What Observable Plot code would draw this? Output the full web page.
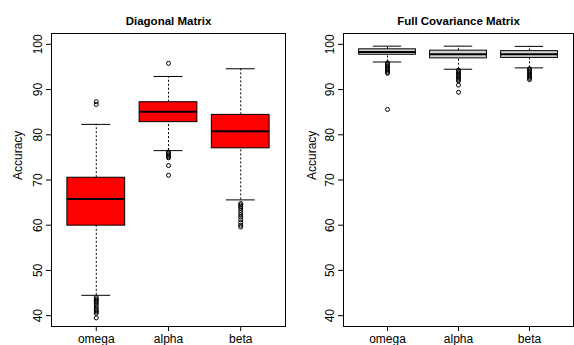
<!DOCTYPE html>
<html><head><meta charset="utf-8">
<script src="https://cdn.jsdelivr.net/npm/d3@7"></script>
<script src="https://cdn.jsdelivr.net/npm/@observablehq/plot@0.6"></script>
<style>
body{margin:0;background:#fff;}
#wrap{display:flex;width:574px;height:345px;overflow:hidden;}
</style></head><body><div id="wrap"></div>
<script>
const categories = ["omega", "alpha", "beta"];
const yTicks = [40, 50, 60, 70, 80, 90, 100];

// Diagonal Matrix
const diagLowerWhisker = [44.5, 76.5, 65.6];
const diagQ1 = [59.9, 82.8, 77.0];
const diagMedian = [65.8, 85.1, 80.8];
const diagQ3 = [70.5, 87.2, 84.4];
const diagUpperWhisker = [82.3, 92.9, 94.6];
const diagOutliersOmega = [87.3, 86.7, 44.0, 43.7, 43.4, 43.1, 42.8, 42.4, 41.9, 41.4, 41.1, 40.8, 40.5, 39.5];
const diagOutliersAlpha = [95.8, 76.2, 75.9, 75.6, 75.4, 75.1, 74.9, 73.2, 71.05];
const diagOutliersBeta = [64.8, 64.5, 64.2, 63.8, 63.3, 62.8, 62.3, 61.8, 61.2, 60.6, 60.0, 59.6];

// Full Covariance Matrix
const fullLowerWhisker = [96.1, 94.5, 94.8];
const fullQ1 = [97.7, 96.9, 97.0];
const fullMedian = [98.3, 97.8, 97.8];
const fullQ3 = [98.9, 98.6, 98.5];
const fullUpperWhisker = [99.6, 99.6, 99.55];
const fullOutliersOmega = [95.9, 95.6, 95.3, 95.0, 94.7, 94.4, 94.1, 93.8, 93.6, 85.6];
const fullOutliersAlpha = [94.3, 94.0, 93.7, 93.4, 93.1, 92.8, 92.5, 92.2, 91.9, 91.0, 89.4];
const fullOutliersBeta = [94.6, 94.3, 94.0, 93.7, 93.4, 93.1, 92.8, 92.5, 92.2];

function panel({title, lw, q1, med, q3, uw, outliers, fill, marginLeft, marginRight, labelDx}) {
  const rows = categories.map((c, i) => ({pos: i + 1, cat: c, lw: lw[i], q1: q1[i], med: med[i], q3: q3[i], uw: uw[i]}));
  const pts = outliers.flatMap((arr, i) => arr.map(v => ({pos: i + 1, v})));
  return Plot.plot({
    width: 287, height: 345, marginLeft, marginRight, marginTop: 33, marginBottom: 19,
    style: {fontFamily: "'Liberation Sans', Arial, sans-serif", fontSize: "12px", background: "white", color: "black"},
    x: {type: "linear", domain: [0.38, 3.62]},
    y: {domain: [37.6, 102.4]},
    marks: [
      Plot.ruleX(rows, {x: "pos", y1: "q3", y2: "uw", stroke: "black", strokeDasharray: "2,2"}),
      Plot.ruleX(rows, {x: "pos", y1: "lw", y2: "q1", stroke: "black", strokeDasharray: "2,2"}),
      Plot.rect(rows, {x1: d => d.pos - 0.4, x2: d => d.pos + 0.4, y1: "q1", y2: "q3", fill, stroke: "black"}),
      Plot.ruleY(rows, {x1: d => d.pos - 0.4, x2: d => d.pos + 0.4, y: "med", stroke: "black", strokeWidth: 2}),
      Plot.ruleY(rows, {x1: d => d.pos - 0.2, x2: d => d.pos + 0.2, y: "uw", stroke: "black"}),
      Plot.ruleY(rows, {x1: d => d.pos - 0.2, x2: d => d.pos + 0.2, y: "lw", stroke: "black"}),
      Plot.dot(pts, {x: "pos", y: "v", r: 2, stroke: "black", strokeWidth: 1}),
      Plot.frame({stroke: "black"}),
      Plot.axisY({ticks: yTicks, tickSize: 5, tickRotate: -90, tickPadding: 5, label: null, fontSize: 12}),
      Plot.axisX({ticks: [1, 2, 3], tickFormat: i => categories[i - 1], tickSize: 5, tickPadding: 3, label: null, fontSize: 12}),
      Plot.text([title], {text: d => d, frameAnchor: "top", dy: -17, fontWeight: "bold", fontSize: 11.5}),
      Plot.text(["Accuracy"], {text: d => d, frameAnchor: "left", dx: labelDx, rotate: -90, fontSize: 12})
    ]
  });
}

const wrap = document.getElementById("wrap");
wrap.append(panel({
  title: "Diagonal Matrix", lw: diagLowerWhisker, q1: diagQ1, med: diagMedian, q3: diagQ3, uw: diagUpperWhisker,
  outliers: [diagOutliersOmega, diagOutliersAlpha, diagOutliersBeta], fill: "#ff0000",
  marginLeft: 51, marginRight: 2, labelDx: -33
}));
wrap.append(panel({
  title: "Full Covariance Matrix", lw: fullLowerWhisker, q1: fullQ1, med: fullMedian, q3: fullQ3, uw: fullUpperWhisker,
  outliers: [fullOutliersOmega, fullOutliersAlpha, fullOutliersBeta], fill: "#d3d3d3",
  marginLeft: 56, marginRight: 1, labelDx: -31
}));
</script></body></html>
